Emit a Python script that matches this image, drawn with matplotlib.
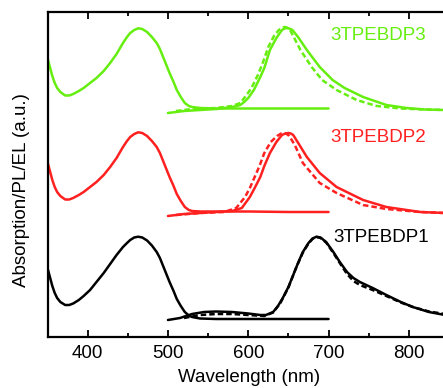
import matplotlib
matplotlib.use("Agg")
import matplotlib.pyplot as plt
from matplotlib.ticker import MultipleLocator

plt.rcParams['font.family'] = ['Liberation Sans', 'DejaVu Sans']

# ---------------- data (wavelength nm, intensity a.u. incl. vertical offset) -------------
# 3TPEBDP3 (green)
g_abs_x = [350, 353, 356, 359, 362, 366, 372, 377, 382, 389, 395, 403, 411, 420, 428, 436, 444,
           449, 453, 458, 463, 468, 474, 480, 486, 490, 494, 498, 502, 507, 511, 516, 521, 526,
           530, 540, 560, 600, 650, 700]
g_abs_y = [279, 270, 261, 254, 249, 245, 241.5, 241.5, 243, 246, 249, 254, 259, 266, 274, 283, 294,
           300, 304, 307, 308.7, 308, 305, 300, 294, 288, 280, 272, 264, 255, 247, 240, 234, 231,
           230, 229, 228.5, 228.5, 228.5, 228.5]
g_pl_x = [500, 520, 540, 560, 580, 590, 595, 600, 607, 615, 620, 627, 635, 642, 645, 648, 651,
          655, 662, 673, 689, 705, 720, 743, 772, 797, 820, 845]
g_pl_y = [224, 226, 227, 228, 230, 232, 235, 239, 247, 260, 269, 287, 299, 307, 308.5, 309, 308.5,
          307, 300, 287, 270, 257, 249, 240, 232, 229, 227.5, 227]
g_el_x = [510, 530, 560, 580, 590, 597, 604, 612, 618, 625, 632, 638, 642, 645, 648, 652, 656,
          665, 679, 692, 710, 735, 760, 790, 820, 845]
g_el_y = [226, 228, 229, 231, 234, 241, 249, 262, 274, 290, 301, 307, 309, 310, 309.5, 307, 301,
          287, 270, 257, 247, 237, 231, 228.5, 227.5, 227]

# 3TPEBDP2 (red)
r_abs_x = g_abs_x
r_abs_y = [175, 166, 157, 150, 145, 141, 137.5, 137.5, 139, 142, 145, 150, 155, 162, 170, 179, 190,
           196, 200, 203, 204.7, 204, 201, 196, 190, 184, 176, 168, 160, 151, 143, 136, 130, 127,
           126, 125.5, 125.5, 125.5, 125, 125]
r_pl_x = [500, 520, 540, 560, 580, 592, 602, 608, 615, 620, 627, 635, 642, 646, 650, 653, 656,
          663, 673, 689, 710, 743, 772, 814, 845]
r_pl_y = [121, 123, 124, 125, 126, 129, 140, 149, 160, 171, 184, 195, 202, 203.5, 204, 203.5, 202,
          193, 180, 164, 150, 137, 130, 125, 124]
r_el_x = [510, 540, 570, 585, 596, 602, 608, 614, 620, 628, 636, 641, 645, 648, 651, 658, 668,
          689, 710, 743, 772, 814, 845]
r_el_y = [122, 124, 125, 129, 140, 149, 160, 171, 184, 195, 201, 203.5, 204, 203, 201, 192, 174,
          154, 144, 132, 128, 125, 124]

# 3TPEBDP1 (black)
k_abs_x = g_abs_x
k_abs_y = [69, 60, 51, 44, 39, 35, 32, 32, 33.5, 37, 41, 47, 55, 64, 73, 82, 90,
           94, 97, 99.5, 100.3, 99.5, 96.5, 91.5, 85, 79, 71, 63, 55, 46, 38, 31, 25, 21.5,
           20, 18.5, 18, 18, 18, 18]
k_pl_x = [500, 515, 530, 545, 560, 580, 600, 615, 622, 631, 637, 643, 650, 656, 662, 668, 675,
          680, 685, 690, 697, 706, 714, 723, 731, 739, 755, 772, 790, 805, 825, 845]
k_pl_y = [17, 19, 23, 25, 25.5, 25, 23.5, 22, 22, 25, 31, 39, 50, 62, 74, 85, 94,
          98.5, 100.3, 99.5, 95, 85, 75, 65, 59, 55, 49, 42, 35, 30, 25, 22]
k_el_x = [520, 540, 560, 580, 600, 620, 631, 640, 650, 660, 668, 675, 680, 685, 690, 697, 706,
          714, 723, 731, 739, 755, 772, 790, 805, 825, 845]
k_el_y = [19, 22, 23, 23, 22, 21, 24.5, 34, 49.5, 70, 84.5, 93.5, 98, 100, 99, 94.5, 84,
          74, 63, 56, 52, 47, 41, 34.5, 30, 25.5, 23]

names = ["3TPEBDP3", "3TPEBDP2", "3TPEBDP1"]
label_x = [702, 702, 705.5]
label_y = [301, 200, 99]

GREEN = '#66ee11'
RED = '#ff2020'
BLACK = '#000000'

fig = plt.figure(figsize=(4.43, 3.88), dpi=100)
W, H = 443, 388
left_px, right_px, top_px, bot_px = 47.5, 47.5 + 500 * 0.803, 12, 337
ax = fig.add_axes([left_px / W, 1 - bot_px / H, (right_px - left_px) / W, (bot_px - top_px) / H])

lw = 1.8
groups = [
    (GREEN, g_abs_x, g_abs_y, g_pl_x, g_pl_y, g_el_x, g_el_y),
    (RED, r_abs_x, r_abs_y, r_pl_x, r_pl_y, r_el_x, r_el_y),
    (BLACK, k_abs_x, k_abs_y, k_pl_x, k_pl_y, k_el_x, k_el_y),
]
for c, ax_, ay_, px_, py_, ex_, ey_ in groups:
    ax.plot(ax_, ay_, color=c, lw=lw, solid_capstyle='round', solid_joinstyle='round')
    ax.plot(px_, py_, color=c, lw=lw, solid_capstyle='round', solid_joinstyle='round')
    ax.plot(ex_, ey_, color=c, lw=lw, ls=(0, (2.2, 1.2)))

for name, c, lx, ly in zip(names, [GREEN, RED, BLACK], label_x, label_y):
    ax.text(lx, ly, name, color=c, fontsize=13.5, ha='left', va='center')

ax.set_xlim(350, 850)
ax.set_ylim(0, 325)
ax.xaxis.set_major_locator(MultipleLocator(100))
ax.xaxis.set_minor_locator(MultipleLocator(50))
ax.set_yticks([])
ax.tick_params(axis='x', which='both', direction='in', top=True, bottom=True,
               labelsize=13.5, pad=6, width=1.3)
ax.tick_params(axis='x', which='major', length=5)
ax.tick_params(axis='x', which='minor', length=3)
for s in ax.spines.values():
    s.set_linewidth(1.6)

fig.text(0.5 * (178 + 320) / W, 1 - 378 / H, "Wavelength (nm)", fontsize=13.5,
         ha='center', va='center')
fig.text(22 / W, 1 - 190 / H, "Absorption/PL/EL (a.u.)", fontsize=13.5,
         ha='center', va='center', rotation=90)

fig.savefig("out.png", dpi=100)
